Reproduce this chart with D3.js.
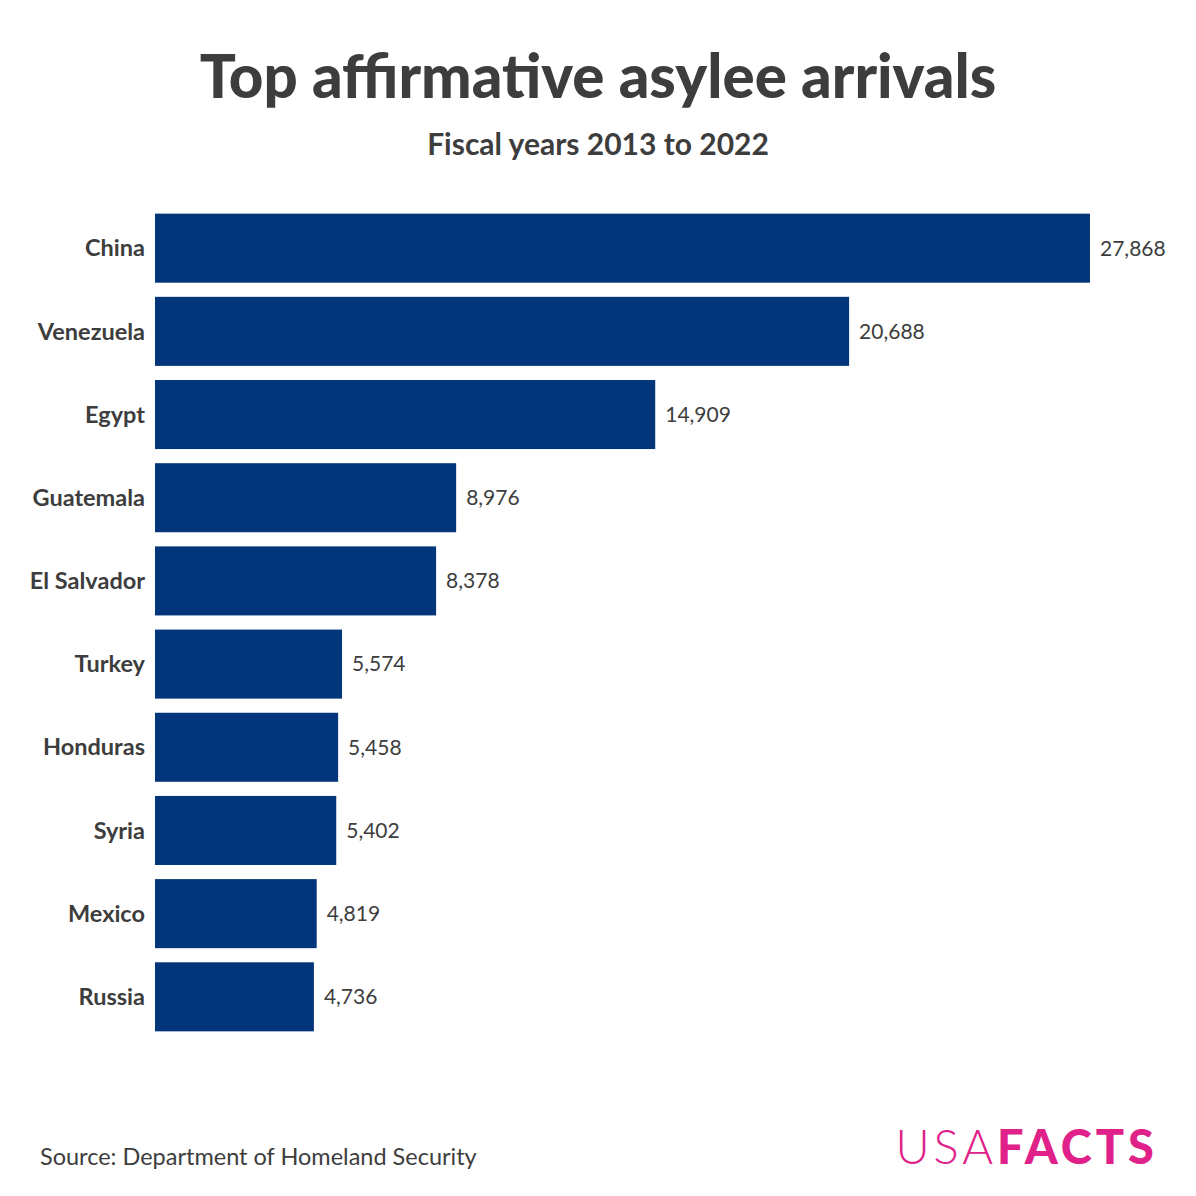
<!DOCTYPE html>
<html><head><meta charset="utf-8">
<script src="https://cdn.jsdelivr.net/npm/d3@7"></script>
<style>body{margin:0;background:#fff}text{font-family:Lato,"Noto Sans",sans-serif}</style>
</head><body><svg id="c" width="1196" height="1196"></svg>
<script>
const countries = ['China', 'Venezuela', 'Egypt', 'Guatemala', 'El Salvador',
  'Turkey', 'Honduras', 'Syria', 'Mexico', 'Russia'];
const arrivals = [27868, 20688, 14909, 8976, 8378, 5574, 5458, 5402, 4819, 4736];

const svg = d3.select('#c');
const ink = '#3d3d3d';

const x = d3.scaleLinear().domain([0, 27868]).range([155, 1090]);
const y = d3.scaleBand().domain(countries).range([207, 1038]).paddingInner(0.17).paddingOuter(0.08);

svg.append('text').attr('x', 598).attr('y', 98).attr('text-anchor', 'middle')
  .attr('font-size', 60).attr('font-weight', 900).attr('fill', ink)
  .text('Top affirmative asylee arrivals');
svg.append('text').attr('x', 598).attr('y', 155).attr('text-anchor', 'middle')
  .attr('font-size', 30).attr('font-weight', 700).attr('fill', ink)
  .text('Fiscal years 2013 to 2022');

const rows = countries.map((c, i) => ({ c, v: arrivals[i] }));

svg.selectAll('rect.bar').data(rows).enter().append('rect')
  .attr('x', x(0)).attr('y', d => y(d.c))
  .attr('width', d => x(d.v) - x(0)).attr('height', y.bandwidth())
  .attr('fill', '#02357a');

svg.selectAll('text.cat').data(rows).enter().append('text')
  .attr('x', 145).attr('y', d => y(d.c) + y.bandwidth() / 2).attr('dy', '0.35em')
  .attr('text-anchor', 'end').attr('font-size', 23.5).attr('font-weight', 700).attr('fill', ink)
  .text(d => d.c);

svg.selectAll('text.val').data(rows).enter().append('text')
  .attr('x', d => x(d.v) + 10).attr('y', d => y(d.c) + y.bandwidth() / 2).attr('dy', '0.35em')
  .attr('font-size', 21).attr('fill', ink)
  .text(d => d3.format(',')(d.v));

svg.append('text').attr('x', 40).attr('y', 1165).attr('font-size', 23.5).attr('fill', ink)
  .text('Source: Department of Homeland Security');

const logo = svg.append('text').attr('x', 1158).attr('y', 1164).attr('text-anchor', 'end')
  .attr('font-size', 47).attr('fill', '#e0218a').attr('letter-spacing', 4);
logo.append('tspan').attr('font-weight', 300).text('USA');
logo.append('tspan').attr('font-weight', 900).text('FACTS');
</script></body></html>
